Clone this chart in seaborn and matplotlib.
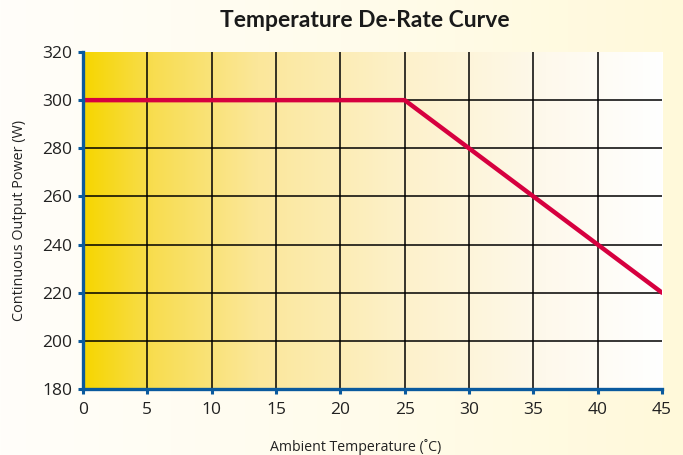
import numpy as np
import matplotlib.pyplot as plt
import seaborn as sns
import pandas as pd
from matplotlib.colors import LinearSegmentedColormap

sns.set_theme(style="white")
plt.rcParams["font.family"] = ["Open Sans", "DejaVu Sans"]

# data
temps = [0, 25, 45]
power = [300, 300, 220]
x_ticks = [0, 5, 10, 15, 20, 25, 30, 35, 40, 45]
y_ticks = [180, 200, 220, 240, 260, 280, 300, 320]

blue = "#0A5A9E"
red = "#D6003F"

fig = plt.figure(figsize=(6.83, 4.55), dpi=100)

# figure background gradient
bg = fig.add_axes([0, 0, 1, 1], zorder=0)
bg_cmap = LinearSegmentedColormap.from_list("bg", ["#FFFEFA", "#FFFCEC", "#FFF9DA"])
bg.imshow(np.linspace(0, 1, 256).reshape(1, -1), aspect="auto", cmap=bg_cmap,
          extent=[0, 1, 0, 1])
bg.axis("off")

ax = fig.add_axes([0.1215, 0.1451, 0.8478, 0.7406], zorder=1)
area_cmap = LinearSegmentedColormap.from_list(
    "area", [(0.0, "#F6D600"), (0.12, "#F8DD50"), (0.3, "#FBE79A"),
             (0.55, "#FDF1CA"), (0.8, "#FEF9EC"), (1.0, "#FFFFFF")])
ax.imshow(np.linspace(0, 1, 256).reshape(1, -1), aspect="auto", cmap=area_cmap,
          extent=[0, 45, 180, 320], zorder=0)

df = pd.DataFrame({"temp": temps, "power": power})
sns.lineplot(data=df, x="temp", y="power", color=red, lw=3.2, ax=ax, zorder=3)

for x in x_ticks[1:-1]:
    ax.axvline(x, color="black", lw=1.1, zorder=2)
for y in y_ticks[1:-1]:
    ax.axhline(y, color="black", lw=1.1, zorder=2)

ax.set_xlim(0, 45)
ax.set_ylim(180, 320)
ax.set_xticks(x_ticks)
ax.set_yticks(y_ticks)
ax.grid(False)

for s in ["top", "right"]:
    ax.spines[s].set_visible(False)
for s in ["left", "bottom"]:
    ax.spines[s].set_color(blue)
    ax.spines[s].set_linewidth(2.4)
    ax.spines[s].set_zorder(4)
ax.tick_params(axis="both", direction="out", length=3.5, width=2.2, color=blue,
               labelsize=12.5, labelcolor="#222222", pad=4, bottom=True, left=True)
ax.tick_params(axis="x", pad=6)

ax.set_xlabel("Ambient Temperature (\u02daC)", fontsize=10.2, color="#222222")
ax.set_ylabel("Continuous Output Power (W)", fontsize=10.4, color="#222222")
ax.xaxis.set_label_coords(0.4715, -0.172)
ax.yaxis.set_label_coords(-0.109, 0.5)
ax.xaxis.label.set_va("center")
ax.yaxis.label.set_va("center")
fig.text(0.534, 0.956, "Temperature De-Rate Curve", ha="center", va="center",
         fontsize=16.5, fontweight="bold", color="#1a1a1a", family=["Lato", "DejaVu Sans"])

fig.savefig("out.png", dpi=100)
